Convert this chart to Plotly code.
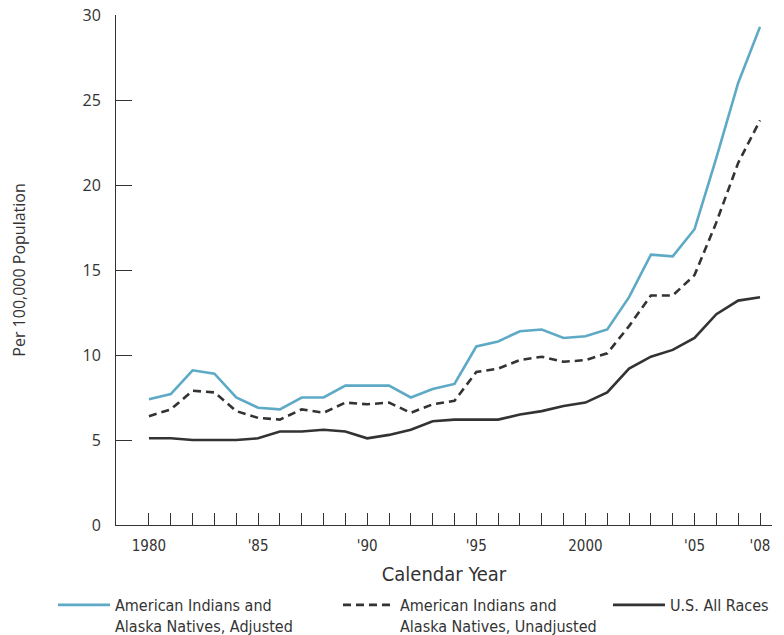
import plotly.graph_objects as go

years = list(range(1980, 2009))
adjusted = [7.4, 7.7, 9.1, 8.9, 7.5, 6.9, 6.8, 7.5, 7.5, 8.2, 8.2, 8.2, 7.5, 8.0, 8.3,
            10.5, 10.8, 11.4, 11.5, 11.0, 11.1, 11.5, 13.4, 15.9, 15.8, 17.4, 21.6, 26.0, 29.3]
unadjusted = [6.4, 6.8, 7.9, 7.8, 6.7, 6.3, 6.2, 6.8, 6.6, 7.2, 7.1, 7.2, 6.6, 7.1, 7.3,
              9.0, 9.2, 9.7, 9.9, 9.6, 9.7, 10.1, 11.7, 13.5, 13.5, 14.7, 17.8, 21.3, 23.8]
all_races = [5.1, 5.1, 5.0, 5.0, 5.0, 5.1, 5.5, 5.5, 5.6, 5.5, 5.1, 5.3, 5.6, 6.1, 6.2,
             6.2, 6.2, 6.5, 6.7, 7.0, 7.2, 7.8, 9.2, 9.9, 10.3, 11.0, 12.4, 13.2, 13.4]

x_labels = {1980: "1980", 1985: "'85", 1990: "'90", 1995: "'95",
            2000: "2000", 2005: "'05", 2008: "'08"}
y_tickvals = [0, 5, 10, 15, 20, 25, 30]

names = ["American Indians and<br>Alaska Natives, Adjusted",
         "American Indians and<br>Alaska Natives, Unadjusted",
         "U.S. All Races"]

COND = "DejaVu Sans Condensed, Liberation Sans Narrow, sans-serif"
REG = "Open Sans, Noto Sans, sans-serif"
INK = "#333333"
BLUE = "#5eaac6"

fig = go.Figure()
fig.add_trace(go.Scatter(x=years, y=adjusted, mode="lines", name=names[0],
                         legend="legend", line=dict(color=BLUE, width=2.6)))
fig.add_trace(go.Scatter(x=years, y=unadjusted, mode="lines", name=names[1],
                         legend="legend2", line=dict(color=INK, width=2.6, dash="8px,5px")))
fig.add_trace(go.Scatter(x=years, y=all_races, mode="lines", name=names[2],
                         legend="legend3", line=dict(color=INK, width=2.6)))


def leg(x):
    return dict(orientation="h", x=x, xanchor="left", y=0.074, yanchor="top",
                xref="container", yref="container",
                font=dict(family=COND, size=16, color=INK),
                itemwidth=52, valign="top", bgcolor="rgba(0,0,0,0)")


fig.update_layout(
    width=784, height=635,
    margin=dict(l=116, r=12, t=15, b=110, autoexpand=False),
    plot_bgcolor="white", paper_bgcolor="white",
    showlegend=True,
    legend=leg(0.0676), legend2=leg(0.4311), legend3=leg(0.7755),
    xaxis=dict(range=[1978.49, 2008.55], tickmode="array", tickvals=years,
               ticktext=[x_labels.get(y, "") for y in years],
               ticks="inside", ticklen=12, tickwidth=1,
               tickcolor=INK, showline=True, linecolor=INK, linewidth=1,
               showgrid=False, zeroline=False, ticklabelstandoff=7,
               tickfont=dict(family=COND, size=15, color=INK),
               title=dict(text="Calendar Year", standoff=12,
                          font=dict(family=COND, size=20, color=INK))),
    yaxis=dict(range=[0, 30], tickmode="array", tickvals=y_tickvals,
               ticks="inside", ticklen=16, tickwidth=1, tickcolor=INK,
               showline=True, linecolor=INK, linewidth=1, showgrid=False,
               zeroline=False, ticklabelstandoff=11, ticklabeloverflow="allow",
               tickfont=dict(family=REG, size=16, color=INK),
               title=dict(text="Per 100,000 Population", standoff=52,
                          font=dict(family=REG, size=16, color=INK))),
)

# remove the default 8px page margin so the figure sits at the window's corner
fig.write_html("out.html", config={"displayModeBar": False},
               post_script="document.body.style.margin='0';")
